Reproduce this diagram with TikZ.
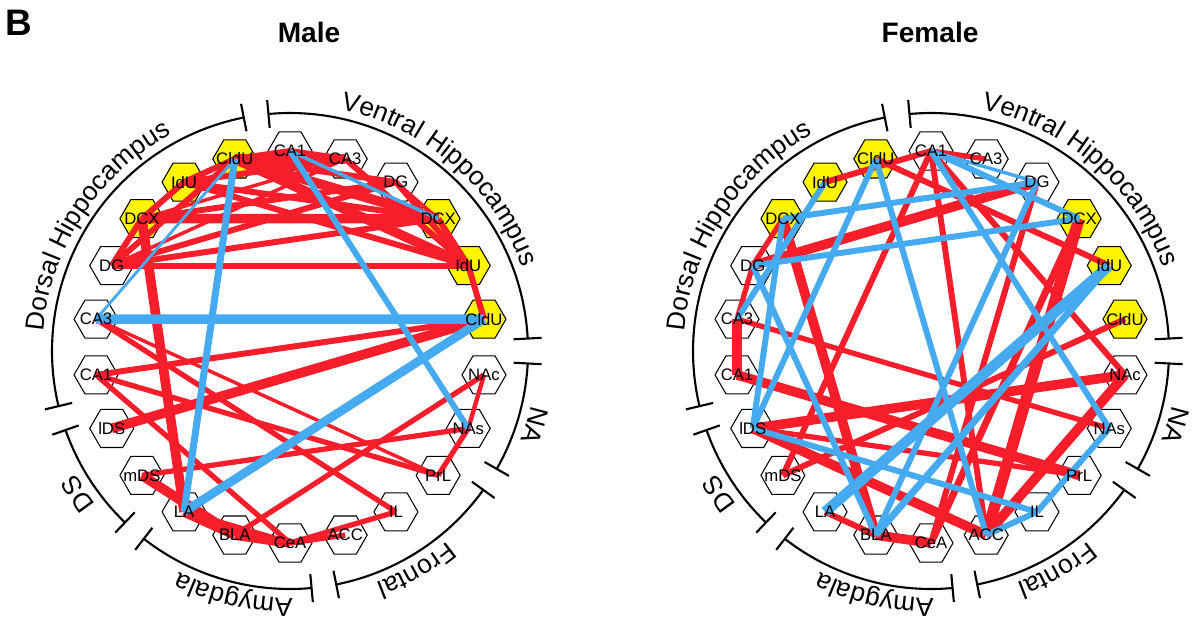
\documentclass[tikz,border=0pt]{standalone}
\usepackage{fontspec}
\setmainfont{Liberation Sans}
\usetikzlibrary{shapes.geometric,decorations.text,calc}
\definecolor{ered}{RGB}{245,30,42}
\definecolor{eblue}{RGB}{70,170,240}
\definecolor{hyel}{RGB}{255,245,0}
\newcommand{\lblf}{\fontsize{15}{15}\selectfont}
\newcommand{\glab}[3]{\path[decorate,decoration={text along path,text align=center,text={|\lblf|#3}}] ($(#1)+({#2+40}:247)$) arc[start angle={#2+40}, end angle={#2-40}, radius=247];}
\begin{document}
\begin{tikzpicture}[x=0.02cm,y=0.02cm,
  hexbox/.style={regular polygon, regular polygon sides=6, minimum size=0.88cm, inner sep=0pt, draw=black, line width=0.6pt, fill=white},
  hexyel/.style={hexbox, fill=hyel},
  hexlab/.style={font=\fontsize{9.5}{10}\selectfont, inner sep=0pt, text=black},
  arcline/.style={draw=black, line width=1.2pt},
  title/.style={font=\fontsize{16}{18}\selectfont\bfseries}]
\useasboundingbox (0,0) rectangle (1202,620);
\coordinate (mc) at (290,273);
\coordinate (fc) at (931,273);
\coordinate (mac) at (290,269);
\coordinate (fac) at (931,269);
\node[font=\fontsize{21}{22}\selectfont\bfseries] (lbB) at (19,597) {B};
\node[title] (tmale) at (309,588) {Male};
\node[title] (tfemale) at (930,588) {Female};
% hexagons
\foreach \p in {m,f}{
  \foreach \lab/\sty [count=\i from 0] in {CA1/hexbox,CA3/hexbox,DG/hexbox,DCX/hexyel,IdU/hexyel,CldU/hexyel,NAc/hexbox,NAs/hexbox,PrL/hexbox,IL/hexbox,ACC/hexbox,CeA/hexbox,BLA/hexbox,LA/hexbox,mDS/hexbox,lDS/hexbox,CA1/hexbox,CA3/hexbox,DG/hexbox,DCX/hexyel,IdU/hexyel,CldU/hexyel}{
    \node[\sty] (\p\i) at ($(\p c)+({90-16.3636*\i}:196)$) {};
  }
}
% group arcs and ticks
\foreach \p in {ma,fa}{
  \foreach \a/\b in {95.2/3,-3/-29.7,-35.7/-78.8,-84.8/-127.9,-133.9/-160.6,193.4/101.2}{
    \draw[arcline] ($(\p c)+(\a:238)$) arc[start angle=\a, end angle=\b, radius=238];
    \draw[arcline] ($(\p c)+(\a:224)$) -- ($(\p c)+(\a:252)$);
    \draw[arcline] ($(\p c)+(\b:224)$) -- ($(\p c)+(\b:252)$);
  }
}
\glab{mac}{49}{Ventral Hippocampus}
\glab{mac}{-17}{NA}
\glab{mac}{-60}{Frontal}
\glab{mac}{-103}{Amygdala}
\glab{mac}{-146}{DS}
\glab{mac}{147}{Dorsal Hippocampus}
\glab{fac}{49}{Ventral Hippocampus}
\glab{fac}{-17}{NA}
\glab{fac}{-60}{Frontal}
\glab{fac}{-103}{Amygdala}
\glab{fac}{-146}{DS}
\glab{fac}{147}{Dorsal Hippocampus}
% male edges
\foreach \a/\b/\w in {21/1/5.5,21/0/3.4,21/2/3.4,21/3/5.5,21/4/5.5,20/21/3.4,20/1/3.4,20/3/3.4,20/4/3.4,19/20/3.4,19/3/5.5,19/2/3.4,19/1/2,18/19/3.4,18/21/3.4,18/2/3.4,18/3/3.4,18/4/3.4,18/1/2,0/1/3.4,1/4/3.4,2/4/3.4,2/3/2,3/4/3.4,4/5/3.4,19/13/5.5,15/5/5.5,16/5/3.4,16/8/3,16/11/3,17/9/3,17/8/2,14/7/3,14/12/5.5,13/12/5.5,13/11/3.4,12/11/5.5,11/10/3,11/9/3,6/12/3,6/7/2.5,7/8/3}{
  \draw[ered, line width=\w pt] (m\a.center) -- (m\b.center);
}
\foreach \a/\b/\w in {17/5/5.5,21/13/4,0/7/3.4,13/5/5,17/21/1.6,0/3/2}{
  \draw[eblue, line width=\w pt] (m\a.center) -- (m\b.center);
}
% female edges
\foreach \a/\b/\w in {20/0/3.4,0/1/3,18/2/5.5,19/18/3,17/16/5.5,18/17/3,19/12/5.5,17/7/3,16/8/5.5,15/6/5.5,15/10/5.5,14/5/3.4,13/12/3.4,12/11/5.5,10/3/6.5,11/3/4,10/6/5.5,0/10/3.4,0/6/3.4,21/4/3.4,0/14/3.4,2/11/3.4,15/8/3}{
  \draw[ered, line width=\w pt] (f\a.center) -- (f\b.center);
}
\foreach \a/\b/\w in {21/10/3.4,21/15/3.4,20/17/3.4,19/15/3.4,19/2/3.4,18/3/3.4,0/3/3.4,0/2/2,2/12/3.4,4/13/6,4/12/4,0/7/3.4,7/9/3.4,9/10/3.4,15/9/3.4,18/12/3.4}{
  \draw[eblue, line width=\w pt] (f\a.center) -- (f\b.center);
}
% labels on top
\foreach \p in {m,f}{
  \foreach \lab [count=\i from 0] in {CA1,CA3,DG,DCX,IdU,CldU,NAc,NAs,PrL,IL,ACC,CeA,BLA,LA,mDS,lDS,CA1,CA3,DG,DCX,IdU,CldU}{
    \node[hexlab] (\p t\i) at (\p\i.center) {\lab};
  }
}
\end{tikzpicture}
\end{document}
